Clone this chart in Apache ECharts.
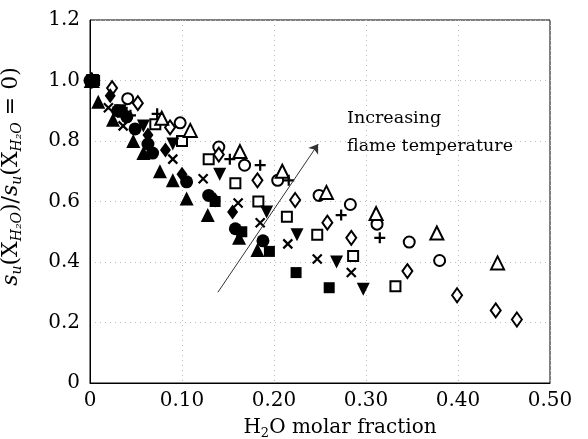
<!DOCTYPE html>
<html>
<head>
<meta charset="utf-8">
<script src="https://cdn.jsdelivr.net/npm/echarts@6/dist/echarts.min.js"></script>
<style>
  html, body { margin: 0; padding: 0; background: #fff; }
  #chart { width: 588px; height: 439px; }
</style>
</head>
<body>
<div id="chart"></div>
<script>
// data: [H2O molar fraction, normalised speed]
const filledCircle = [[0, 1.0], [0.03, 0.90], [0.04, 0.88], [0.049, 0.84], [0.063, 0.79], [0.068, 0.76], [0.105, 0.665], [0.129, 0.62], [0.158, 0.51], [0.188, 0.47]];
const filledTri = [[0.009, 0.93], [0.025, 0.87], [0.047, 0.80], [0.058, 0.76], [0.076, 0.70], [0.090, 0.67], [0.105, 0.61], [0.128, 0.555], [0.162, 0.48], [0.182, 0.44]];
const filledDiamond = [[0.002, 1.0], [0.022, 0.95], [0.063, 0.82], [0.082, 0.77], [0.10, 0.69], [0.136, 0.605], [0.155, 0.565]];
const filledDown = [[0.003, 1.0], [0.033, 0.90], [0.058, 0.85], [0.09, 0.79], [0.141, 0.69], [0.192, 0.565], [0.225, 0.49], [0.268, 0.40], [0.297, 0.31]];
const filledSquare = [[0.005, 1.0], [0.035, 0.895], [0.136, 0.60], [0.165, 0.50], [0.195, 0.435], [0.224, 0.365], [0.26, 0.315]];
const crosses = [[0.002, 1.0], [0.02, 0.91], [0.036, 0.85], [0.09, 0.74], [0.123, 0.675], [0.161, 0.595], [0.185, 0.53], [0.215, 0.46], [0.247, 0.41], [0.284, 0.365]];
const pluses = [[0.002, 1.0], [0.044, 0.885], [0.073, 0.89], [0.152, 0.74], [0.185, 0.72], [0.216, 0.67], [0.273, 0.555], [0.315, 0.48]];
const openSquare = [[0.002, 1.0], [0.071, 0.855], [0.10, 0.80], [0.129, 0.74], [0.158, 0.66], [0.183, 0.60], [0.214, 0.55], [0.247, 0.49], [0.286, 0.42], [0.332, 0.32]];
const openCircle = [[0.002, 1.0], [0.041, 0.94], [0.098, 0.86], [0.14, 0.78], [0.168, 0.72], [0.204, 0.67], [0.249, 0.62], [0.283, 0.59], [0.312, 0.525], [0.347, 0.466], [0.38, 0.405]];
const openDiamond = [[0.002, 1.0], [0.024, 0.975], [0.052, 0.925], [0.087, 0.845], [0.14, 0.755], [0.182, 0.67], [0.223, 0.605], [0.258, 0.53], [0.284, 0.48], [0.345, 0.37], [0.399, 0.29], [0.441, 0.24], [0.464, 0.21]];
const openTri = [[0.002, 1.0], [0.078, 0.875], [0.109, 0.835], [0.163, 0.765], [0.209, 0.70], [0.257, 0.63], [0.311, 0.56], [0.377, 0.496], [0.443, 0.397]];

const arrowFrom = [0.139, 0.30];
const arrowTo = [0.248, 0.79];

const serif = 'DejaVu Serif';
const crossPath = 'path://M0,0L10,10M10,0L0,10';
const plusPath = 'path://M5,0L5,10M0,5L10,5';

function openSeries(data, symbol, size) {
    return {
        type: 'scatter', data: data, symbol: symbol, symbolSize: size,
        itemStyle: { color: '#fff', borderColor: '#000', borderWidth: 2, opacity: 1 }
    }
}
function filledSeries(data, symbol, size, rotate) {
    return {
        type: 'scatter', data: data, symbol: symbol, symbolSize: size, symbolRotate: rotate || 0,
        itemStyle: { color: '#000', opacity: 1 }
    }
}
function lineSeries(data, symbol, size) {
    return {
        type: 'scatter', data: data, symbol: symbol, symbolSize: size,
        itemStyle: { color: 'none', borderColor: '#000', borderWidth: 2.2, opacity: 1 }
    }
}

const chart = echarts.init(document.getElementById('chart'));

const option = {
    animation: false,
    grid: {
        left: 90, right: 38, top: 20, bottom: 56, show: true, borderColor: '#000', borderWidth: 1,
        outerBoundsMode: 'none'
    },
    xAxis: {
        type: 'value', min: 0, max: 0.5, interval: 0.1,
        name: 'H{sub|2}O molar fraction', nameLocation: 'middle', nameGap: 32,
        nameTextStyle: {
            fontFamily: serif, fontSize: 20, color: '#000', padding: [0, 0, 0, 40],
            rich: { sub: { fontFamily: serif, fontSize: 13, color: '#000', padding: [12, 0, 0, 0] } }
        },
        axisLine: { lineStyle: { color: '#000' } },
        axisTick: { show: false },
        axisLabel: {
            fontFamily: serif, fontSize: 20, color: '#000', margin: 8,
            formatter: v => v === 0 ? '0' : v.toFixed(2)
        },
        splitLine: { lineStyle: { color: '#bbb', type: [1, 4] } }
    },
    yAxis: {
        type: 'value', min: 0, max: 1.2, interval: 0.2,
        name: '{i|s}{sub|u}(X{sub|H₂O})/{i|s}{sub|u}(X{sub|H₂O} = 0)',
        nameLocation: 'middle', nameGap: 66, nameRotate: 90,
        nameTextStyle: {
            fontFamily: serif, fontSize: 22, color: '#000', padding: [0, 0, 0, 50],
            rich: {
                i: { fontFamily: serif, fontStyle: 'italic', fontSize: 22, color: '#000' },
                sub: { fontFamily: serif, fontStyle: 'italic', fontSize: 14, color: '#000', padding: [12, 0, 0, 0] }
            }
        },
        axisLine: { show: true, lineStyle: { color: '#000' } },
        axisTick: { show: false },
        axisLabel: {
            fontFamily: serif, fontSize: 20, color: '#000', margin: 10,
            formatter: v => v === 0 ? '0' : v.toFixed(1)
        },
        splitLine: { lineStyle: { color: '#bbb', type: [1, 4] } }
    },
    series: [
        openSeries(openSquare, 'rect', 10),
        openSeries(openCircle, 'circle', 11),
        openSeries(openDiamond, 'diamond', [10, 14]),
        openSeries(openTri, 'triangle', 13),
        lineSeries(crosses, crossPath, 9),
        lineSeries(pluses, plusPath, 11),
        filledSeries(filledSquare, 'rect', 11),
        filledSeries(filledDown, 'triangle', 13, 180),
        filledSeries(filledDiamond, 'diamond', [11, 15]),
        filledSeries(filledTri, 'triangle', 14),
        Object.assign(filledSeries(filledCircle, 'circle', 13), {
            markLine: {
                silent: true, symbol: ['none', 'arrow'], symbolSize: 9,
                label: { show: false },
                lineStyle: { color: '#333', width: 1, type: 'solid' },
                data: [[{ coord: arrowFrom }, { coord: arrowTo }]]
            }
        })
    ],
    graphic: [{
        type: 'text', left: 347, top: 104,
        style: { text: 'Increasing\nflame temperature', font: '17.5px "DejaVu Serif"', fill: '#000', lineHeight: 28 }
    }]
};

chart.setOption(option);
</script>
</body>
</html>
